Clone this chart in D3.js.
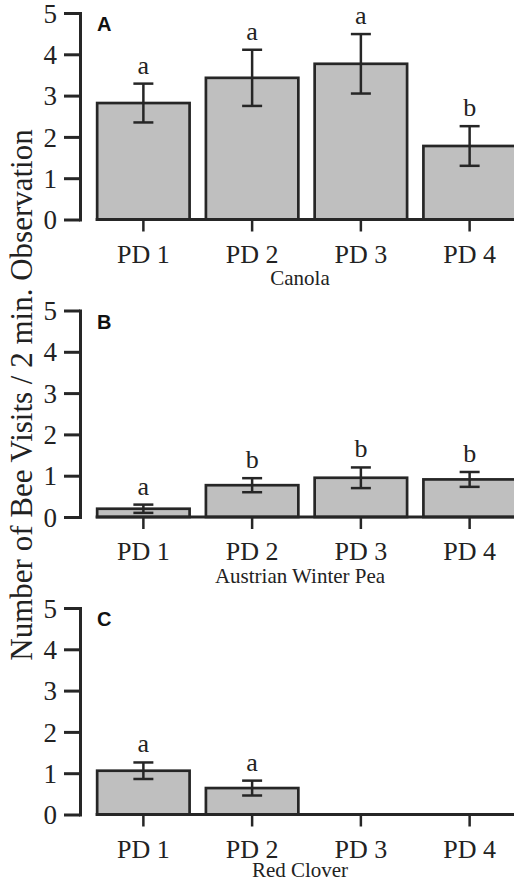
<!DOCTYPE html>
<html>
<head>
<meta charset="utf-8">
<script src="https://cdn.jsdelivr.net/npm/d3@7"></script>
<style>
  body { margin: 0; background: #fff; }
  svg { display: block; }
</style>
</head>
<body>
<svg></svg>
<script>
// Data
const categories = ["PD 1", "PD 2", "PD 3", "PD 4"];
const yTicks = [0, 1, 2, 3, 4, 5];

const canolaMeans = [2.82, 3.43, 3.77, 1.78];
const canolaErr = [0.47, 0.68, 0.72, 0.48];
const canolaLetters = ["a", "a", "a", "b"];

const peaMeans = [0.20, 0.77, 0.95, 0.91];
const peaErr = [0.10, 0.17, 0.25, 0.18];
const peaLetters = ["a", "b", "b", "b"];

const cloverMeans = [1.06, 0.64, null, null];
const cloverErr = [0.20, 0.18, null, null];
const cloverLetters = ["a", "a", null, null];

const panels = [
  { tag: "A", title: "Canola", means: canolaMeans, err: canolaErr, letters: canolaLetters, top: 13, titleY: 285 },
  { tag: "B", title: "Austrian Winter Pea", means: peaMeans, err: peaErr, letters: peaLetters, top: 310.5, titleY: 583 },
  { tag: "C", title: "Red Clover", means: cloverMeans, err: cloverErr, letters: cloverLetters, top: 608, titleY: 877 }
];

const width = 514, height = 882;
const panelHeight = 206.5;
const axisX = 80;
const serif = '"Liberation Serif", "Times New Roman", serif';
const ink = "#262626";

const svg = d3.select("svg")
    .attr("width", width)
    .attr("height", height);

// Shared x scale (the right end is cut off by the frame, like the original)
const x = d3.scaleBand()
    .domain(categories)
    .range([89, 524])
    .paddingInner(0.15)
    .paddingOuter(0.075);

panels.forEach(p => {
  const y = d3.scaleLinear().domain([0, 5]).range([p.top + panelHeight, p.top]);
  const g = svg.append("g");
  const rows = categories.map((c, i) => ({ cat: c, mean: p.means[i], err: p.err[i], letter: p.letters[i] }))
      .filter(d => d.mean != null);

  // Bars
  g.selectAll(".bar")
    .data(rows)
    .enter().append("rect")
    .attr("class", "bar")
    .attr("x", d => x(d.cat))
    .attr("width", x.bandwidth())
    .attr("y", d => y(d.mean))
    .attr("height", d => y(0) - y(d.mean))
    .attr("fill", "#bfbfbf")
    .attr("stroke", ink)
    .attr("stroke-width", 2.7);

  // Baseline
  g.append("line")
    .attr("x1", x(categories[0]) - 1.5)
    .attr("x2", width + 10)
    .attr("y1", y(0))
    .attr("y2", y(0))
    .attr("stroke", ink)
    .attr("stroke-width", 3);

  // Error bars
  const cap = 10;
  const eb = g.selectAll(".err")
    .data(rows)
    .enter().append("g")
    .attr("class", "err")
    .attr("stroke", ink)
    .attr("stroke-width", 2.5);
  eb.append("line")
    .attr("x1", d => x(d.cat) + x.bandwidth() / 2)
    .attr("x2", d => x(d.cat) + x.bandwidth() / 2)
    .attr("y1", d => y(d.mean - d.err))
    .attr("y2", d => y(d.mean + d.err));
  eb.append("line")
    .attr("x1", d => x(d.cat) + x.bandwidth() / 2 - cap)
    .attr("x2", d => x(d.cat) + x.bandwidth() / 2 + cap)
    .attr("y1", d => y(d.mean + d.err))
    .attr("y2", d => y(d.mean + d.err));
  eb.append("line")
    .attr("x1", d => x(d.cat) + x.bandwidth() / 2 - cap)
    .attr("x2", d => x(d.cat) + x.bandwidth() / 2 + cap)
    .attr("y1", d => y(d.mean - d.err))
    .attr("y2", d => y(d.mean - d.err));

  // Significance letters
  g.selectAll(".letter")
    .data(rows)
    .enter().append("text")
    .attr("class", "letter")
    .attr("x", d => x(d.cat) + x.bandwidth() / 2)
    .attr("y", d => y(d.mean + d.err) - 10)
    .attr("text-anchor", "middle")
    .attr("font-family", serif)
    .attr("font-size", 26)
    .attr("fill", "#222")
    .text(d => d.letter);

  // Y axis
  const yAxis = g.append("g")
    .attr("transform", `translate(${axisX},0)`)
    .call(d3.axisLeft(y).tickValues(yTicks).tickFormat(d3.format("d")).tickSize(16).tickSizeOuter(0).tickPadding(7))
    .attr("font-family", serif)
    .attr("font-size", 27);
  yAxis.select(".domain").attr("stroke", ink).attr("stroke-width", 3).attr("stroke-linecap", "square");
  yAxis.selectAll(".tick line").attr("stroke", ink).attr("stroke-width", 3);
  yAxis.selectAll(".tick text").attr("fill", "#222").attr("dy", "0.34em");

  // X axis ticks and labels
  const xAxis = g.append("g")
    .attr("transform", `translate(0,${y(0)})`)
    .call(d3.axisBottom(x).tickSize(12).tickSizeOuter(0))
    .attr("font-family", serif)
    .attr("font-size", 26);
  xAxis.select(".domain").remove();
  xAxis.selectAll(".tick line").attr("stroke", ink).attr("stroke-width", 2.5);
  xAxis.selectAll(".tick text").attr("fill", "#222").attr("y", 43).attr("dy", null);

  // Panel tag
  g.append("text")
    .attr("x", 97)
    .attr("y", p.top + 18)
    .attr("font-family", '"Liberation Sans", Arial, sans-serif')
    .attr("font-weight", "bold")
    .attr("font-size", 20)
    .attr("fill", "#111")
    .text(p.tag);

  // Panel title
  g.append("text")
    .attr("x", 300)
    .attr("y", p.titleY)
    .attr("text-anchor", "middle")
    .attr("font-family", serif)
    .attr("font-size", 21)
    .attr("fill", "#222")
    .text(p.title);
});

// Shared y-axis title
svg.append("text")
  .attr("transform", "translate(32,395) rotate(-90)")
  .attr("text-anchor", "middle")
  .attr("font-family", serif)
  .attr("font-size", 31)
  .attr("fill", "#222")
  .text("Number of Bee Visits / 2 min. Observation");
</script>
</body>
</html>
